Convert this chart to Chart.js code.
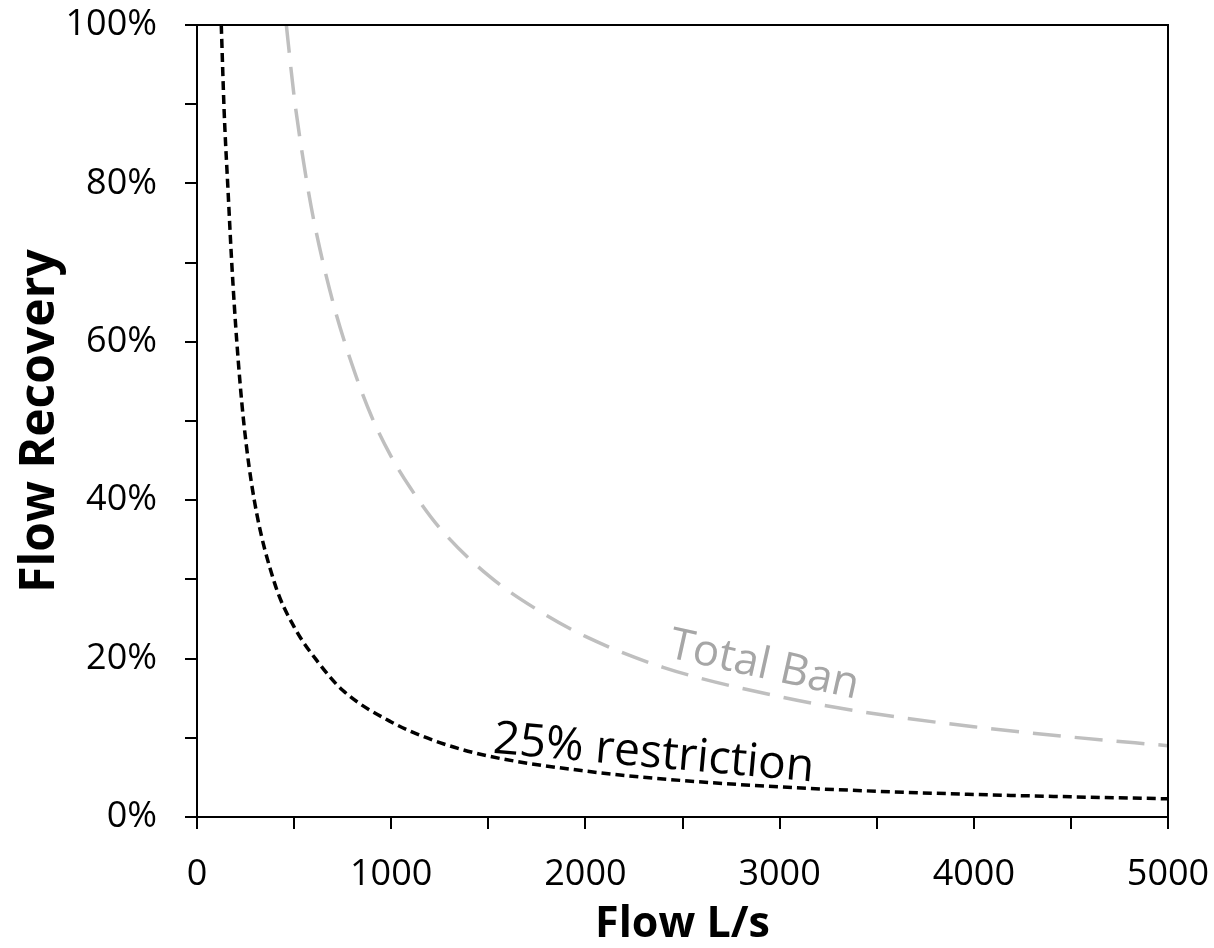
<!DOCTYPE html>
<html>
<head>
<meta charset="utf-8">
<title>Flow Recovery</title>
<script src="https://cdn.jsdelivr.net/npm/chart.js@4.4.1/dist/chart.umd.min.js"></script>
<style>
  html, body { margin: 0; padding: 0; background: #fff; }
  #wrap { width: 1214px; height: 948px; }
</style>
</head>
<body>
<div id="wrap"><canvas id="chart" width="1214" height="948"></canvas></div>
<script>
// Flow (L/s) against share of flow recovered (%)
const restrictionFlow = [125, 140, 160, 180, 205, 240, 295, 400, 500, 625, 750, 1000, 1250, 1500, 2000, 2500, 3000, 3500, 4000, 4500, 5000]
const restrictionRecovery = [100, 89, 79, 69.5, 60, 50, 40, 29.5, 24, 19.5, 16, 12, 9.4, 7.7, 5.8, 4.6, 3.8, 3.25, 2.85, 2.55, 2.3]

const banFlow = [460, 500, 550, 600, 700, 800, 900, 1000, 1100, 1250, 1500, 1750, 2000, 2400, 3000, 3500, 4000, 4500, 5000]
const banRecovery = [100, 91, 82.5, 75.5, 65, 57, 50.5, 45.5, 41.5, 36.5, 30.5, 26.2, 22.8, 18.9, 15.2, 13, 11.4, 10.1, 9.0]

const xTicks = [0, 1000, 2000, 3000, 4000, 5000]
const yTicks = [0, 20, 40, 60, 80, 100]

const toPoints = (xs, ys) => xs.map((x, i) => ({ x: x, y: ys[i] }))

// curve labels, anchored in data units
const curveLabels = [
  { text: '25% restriction', x: 1520, y: 8.1, angle: 5.1, color: '#000000', size: 46 },
  { text: 'Total Ban', x: 2420, y: 20.2, angle: 12.5, color: '#a6a6a6', size: 44 }
]

const FONT = "'Open Sans', 'DejaVu Sans', sans-serif"

const framePlugin = {
  id: 'frame',
  afterDatasetsDraw(chart) {
    const { ctx, chartArea: a } = chart
    ctx.save()
    ctx.strokeStyle = '#000'
    ctx.lineWidth = 2
    ctx.beginPath()
    ctx.moveTo(a.left - 12, a.top)
    ctx.lineTo(a.right, a.top)
    ctx.lineTo(a.right, a.bottom + 12)
    ctx.stroke()
    ctx.restore()
  }
}

const curveLabelPlugin = {
  id: 'curveLabels',
  afterDatasetsDraw(chart) {
    const { ctx, scales } = chart
    curveLabels.forEach(l => {
      const px = scales.x.getPixelForValue(l.x)
      const py = scales.y.getPixelForValue(l.y)
      ctx.save()
      ctx.translate(px, py)
      ctx.rotate(l.angle * Math.PI / 180)
      ctx.font = `${l.size}px ${FONT}`
      ctx.fillStyle = l.color
      ctx.textAlign = 'left'
      ctx.textBaseline = 'alphabetic'
      ctx.fillText(l.text, 0, 0)
      ctx.restore()
    })
  }
}

new Chart(document.getElementById('chart'), {
  type: 'scatter',
  data: {
    datasets: [
      {
        label: '25% restriction',
        data: toPoints(restrictionFlow, restrictionRecovery),
        showLine: true,
        borderColor: '#000000',
        borderWidth: 3.5,
        borderDash: [9, 5],
        pointRadius: 0,
        cubicInterpolationMode: 'monotone'
      },
      {
        label: 'Total Ban',
        data: toPoints(banFlow, banRecovery),
        showLine: true,
        borderColor: '#bfbfbf',
        borderWidth: 3.5,
        borderDash: [28, 14],
        pointRadius: 0,
        cubicInterpolationMode: 'monotone'
      }
    ]
  },
  options: {
    responsive: false,
    animation: false,
    layout: { padding: { top: 25, right: 46, left: 0, bottom: 0 } },
    plugins: {
      legend: { display: false },
      tooltip: { enabled: false }
    },
    scales: {
      x: {
        type: 'linear',
        min: 0,
        max: 5000,
        afterFit: (scale) => {
          scale.height = 131
          scale.paddingLeft = 0
          scale.paddingRight = 0
        },
        border: { display: true, color: '#000', width: 2 },
        grid: { drawOnChartArea: false, drawTicks: true, tickLength: 12, color: '#000', lineWidth: 2 },
        ticks: {
          stepSize: 500,
          autoSkip: false,
          maxRotation: 0,
          padding: 24,
          color: '#000',
          font: { family: FONT, size: 36 },
          callback: (v) => xTicks.includes(v) ? String(v) : ''
        },
        title: {
          display: true,
          text: 'Flow L/s',
          color: '#000',
          font: { family: FONT, size: 43, weight: 'bold' },
          padding: { top: 0, bottom: -3 }
        }
      },
      y: {
        min: 0,
        max: 100,
        afterFit: (scale) => {
          scale.width = 197
          scale.paddingTop = 0
          scale.paddingBottom = 0
        },
        border: { display: true, color: '#000', width: 2 },
        grid: { drawOnChartArea: false, drawTicks: true, tickLength: 12, color: '#000', lineWidth: 2 },
        ticks: {
          stepSize: 10,
          autoSkip: false,
          padding: 28,
          color: '#000',
          font: { family: FONT, size: 36 },
          callback: (v) => yTicks.includes(v) ? v + '%' : ''
        },
        title: {
          display: true,
          text: 'Flow Recovery',
          color: '#000',
          font: { family: FONT, size: 48, weight: 'bold' },
          padding: { top: 12, bottom: 0 }
        }
      }
    }
  },
  plugins: [framePlugin, curveLabelPlugin]
})
</script>
</body>
</html>
